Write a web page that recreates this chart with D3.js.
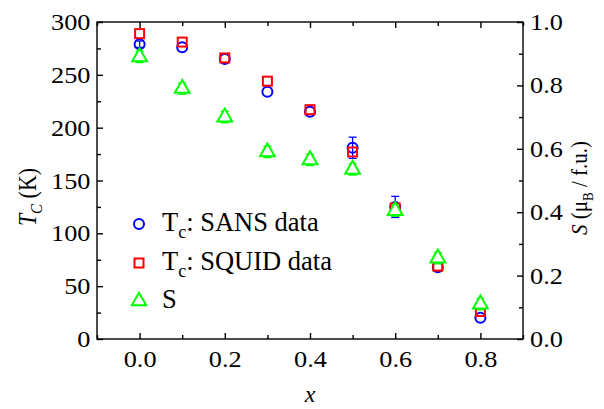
<!DOCTYPE html>
<html>
<head>
<meta charset="utf-8">
<script src="https://cdn.jsdelivr.net/npm/d3@7"></script>
<style>
  html, body { margin: 0; padding: 0; background: #fff; }
  svg { display: block; font-family: "Liberation Serif", "Times New Roman", serif; }
</style>
</head>
<body>
<svg id="chart" width="604" height="409"></svg>
<script>
// Composition x
const xValues = [0.0, 0.1, 0.2, 0.3, 0.4, 0.5, 0.6, 0.7, 0.8];
// Curie temperature from SANS (K) and its uncertainty
const tcSans    = [279, 276, 265, 234, 215, 181, 125, 68, 20];
const tcSansErr = [3, 0, 0, 0, 0, 10, 10, 0, 0];
// Curie temperature from SQUID magnetometry (K)
const tcSquid   = [289, 281, 266, 244, 217, 177, 124, 69, 26];
// Ordered moment S (muB / f.u.) and its uncertainty
const sMoment   = [0.89, 0.79, 0.70, 0.59, 0.565, 0.535, 0.405, 0.255, 0.11];
const sErr      = [0.018, 0.018, 0.018, 0.018, 0.018, 0.018, 0.018, 0.018, 0.018];

const xTicks = [0.0, 0.2, 0.4, 0.6, 0.8];
const xMinor = [-0.1, 0.1, 0.3, 0.5, 0.7, 0.9];
const tcTicks = [0, 50, 100, 150, 200, 250, 300];
const tcMinor = [25, 75, 125, 175, 225, 275];
const sTicks = [0.0, 0.2, 0.4, 0.6, 0.8, 1.0];
const sMinor = [0.1, 0.3, 0.5, 0.7, 0.9];

const legendItems = ["SANS", "SQUID", "S"];

const svg = d3.select("#chart");
const m = { left: 97, right: 523, top: 22, bottom: 339 };
const W = m.right - m.left, H = m.bottom - m.top;

const x = d3.scaleLinear().domain([-0.1, 0.9]).range([m.left, m.right]);
const yT = d3.scaleLinear().domain([0, 300]).range([m.bottom, m.top]);
const yS = d3.scaleLinear().domain([0, 1.0]).range([m.bottom, m.top]);

const BLUE = "#0000ff", RED = "#ff0000", GREEN = "#00ff00";
const tickFont = 23.5;
const WIDE = 1.12;   // horizontal widening of the tick lettering

// Widen a text element horizontally about its own anchor point
function widen(sel, k) {
  sel.each(function () {
    const t = d3.select(this);
    const x0 = +t.attr("x") || 0;
    t.attr("transform", `translate(${x0},0) scale(${k},1) translate(${-x0},0)`);
  });
}

// Frame
svg.append("rect").attr("x", m.left).attr("y", m.top).attr("width", W).attr("height", H)
  .attr("fill", "none").attr("stroke", "#000").attr("stroke-width", 1.4);

function tickAxis(axisGen, transform, noLabels) {
  const g = svg.append("g").attr("transform", transform).call(axisGen);
  g.select(".domain").remove();
  g.selectAll(".tick line").attr("stroke", "#000").attr("stroke-width", 1.4);
  g.selectAll("text").attr("font-size", tickFont).attr("font-family", "Liberation Serif").attr("fill", "#000");
  if (noLabels) g.selectAll("text").remove();
  else widen(g.selectAll("text"), WIDE);
  return g;
}
const fmt1 = d3.format(".1f");
// Bottom axis (inward ticks)
tickAxis(d3.axisBottom(x).tickValues(xTicks).tickSize(-6).tickPadding(11).tickFormat(fmt1), `translate(0,${m.bottom})`);
tickAxis(d3.axisBottom(x).tickValues(xMinor).tickSize(-4).tickFormat(""), `translate(0,${m.bottom})`, true);
// Top axis
tickAxis(d3.axisTop(x).tickValues(xTicks).tickSize(-6).tickFormat(""), `translate(0,${m.top})`, true);
tickAxis(d3.axisTop(x).tickValues(xMinor).tickSize(-4).tickFormat(""), `translate(0,${m.top})`, true);
// Left axis
tickAxis(d3.axisLeft(yT).tickValues(tcTicks).tickSize(-6).tickPadding(6.5).tickFormat(d3.format("d")), `translate(${m.left},0)`);
tickAxis(d3.axisLeft(yT).tickValues(tcMinor).tickSize(-4).tickFormat(""), `translate(${m.left},0)`, true);
// Right axis
tickAxis(d3.axisRight(yS).tickValues(sTicks).tickSize(-6).tickPadding(7).tickFormat(fmt1), `translate(${m.right},0)`);
tickAxis(d3.axisRight(yS).tickValues(sMinor).tickSize(-4).tickFormat(""), `translate(${m.right},0)`, true);

// Axis titles
svg.append("text").attr("x", x(0.4)).attr("y", 402).attr("text-anchor", "middle")
  .attr("font-size", 24).attr("font-style", "italic")
  .text("x");

const lt = svg.append("text").attr("transform", `translate(36,197) scale(${WIDE},1) rotate(-90)`)
  .attr("text-anchor", "middle").attr("font-size", 22);
lt.append("tspan").attr("font-style", "italic").text("T");
lt.append("tspan").attr("font-style", "italic").attr("font-size", 15).attr("dy", 5).text("C");
lt.append("tspan").attr("dy", -5).text(" (K)");

const rt = svg.append("text").attr("transform", `translate(587,188) scale(${WIDE},1) rotate(-90)`)
  .attr("text-anchor", "middle").attr("font-size", 21);
rt.append("tspan").attr("font-style", "italic").text("S");
rt.append("tspan").text(" (\u03bc");
rt.append("tspan").attr("font-size", 13).attr("dy", 5).text("B");
rt.append("tspan").attr("dy", -5).text(" / f.u.)");

const plot = svg.append("g");

// Error bars
function errBars(vals, errs, scale, color) {
  xValues.forEach((xv, i) => {
    if (!errs[i]) return;
    const cx = x(xv), y1 = scale(vals[i] - errs[i]), y2 = scale(vals[i] + errs[i]);
    const g = plot.append("g").attr("stroke", color).attr("stroke-width", 1.3);
    g.append("line").attr("x1", cx).attr("x2", cx).attr("y1", y1).attr("y2", y2);
    g.append("line").attr("x1", cx - 4).attr("x2", cx + 4).attr("y1", y1).attr("y2", y1);
    g.append("line").attr("x1", cx - 4).attr("x2", cx + 4).attr("y1", y2).attr("y2", y2);
  });
}

// SANS circles
plot.selectAll(".sans").data(xValues).join("circle")
  .attr("cx", d => x(d)).attr("cy", (d, i) => yT(tcSans[i])).attr("r", 5)
  .attr("fill", "none").attr("stroke", BLUE).attr("stroke-width", 2);
errBars(tcSans, tcSansErr, yT, BLUE);

// SQUID squares
const sq = 9;
plot.selectAll(".squid").data(xValues).join("rect")
  .attr("x", d => x(d) - sq / 2).attr("y", (d, i) => yT(tcSquid[i]) - sq / 2)
  .attr("width", sq).attr("height", sq)
  .attr("fill", "none").attr("stroke", RED).attr("stroke-width", 2);

// Moment triangles (white filled, drawn over their error bars)
errBars(sMoment, sErr, yS, GREEN);
const tri = d3.symbol().type(d3.symbolTriangle).size(95);
plot.selectAll(".smom").data(xValues).join("path")
  .attr("d", tri)
  .attr("transform", (d, i) => `translate(${x(d)},${yS(sMoment[i])})`)
  .attr("fill", "#fff").attr("stroke", GREEN).attr("stroke-width", 2);

// Legend
const leg = svg.append("g");
const baselines = [231, 270, 308];
legendItems.forEach((name, i) => {
  const by = baselines[i], cy = by - 7, mx = 139;
  if (i === 0) leg.append("circle").attr("cx", mx).attr("cy", cy).attr("r", 5)
    .attr("fill", "none").attr("stroke", BLUE).attr("stroke-width", 2);
  if (i === 1) leg.append("rect").attr("x", mx - 4.5).attr("y", cy - 4.5).attr("width", 9).attr("height", 9)
    .attr("fill", "none").attr("stroke", RED).attr("stroke-width", 2);
  if (i === 2) leg.append("path").attr("d", d3.symbol().type(d3.symbolTriangle).size(90))
    .attr("transform", `translate(${mx},${cy})`)
    .attr("fill", "none").attr("stroke", GREEN).attr("stroke-width", 2);
  const t = leg.append("text").attr("x", 162).attr("y", by).attr("font-size", 26.5);
  if (name === "S") {
    t.text("S");
  } else {
    t.append("tspan").text("T");
    t.append("tspan").attr("font-size", 18).attr("dy", 7).text("c");
    t.append("tspan").attr("dy", -7).text(": " + name + " data");
  }
});
</script>
</body>
</html>
